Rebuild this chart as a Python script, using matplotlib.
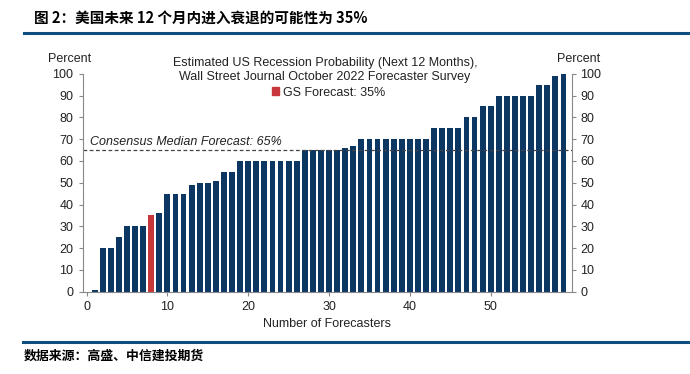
import numpy as np
import matplotlib.pyplot as plt
from matplotlib.patches import Patch

# 数据：每位预测者的衰退概率（已排序）
forecasters = list(range(1, 60))
probability = [1, 20, 20, 25, 30, 30, 30, 35, 36, 45,
               45, 45, 49, 50, 50, 51, 55, 55, 60, 60,
               60, 60, 60, 60, 60, 60, 65, 65, 65, 65,
               65, 66, 67, 70, 70, 70, 70, 70, 70, 70,
               70, 70, 75, 75, 75, 75, 80, 80, 85, 85,
               90, 90, 90, 90, 90, 95, 95, 99, 100]
gs_index = 8          # 高盛所在的预测者序号
median_value = 65
x_ticks = [0, 10, 20, 30, 40, 50]
y_ticks = [0, 10, 20, 30, 40, 50, 60, 70, 80, 90, 100]

navy = '#0c3763'
red = '#c8383a'
line_blue = '#0e4e7f'
fs = 9

plt.rcParams['font.family'] = ['Liberation Sans', 'DejaVu Sans']
cjk = ['Noto Sans CJK SC', 'DejaVu Sans']

fig = plt.figure(figsize=(6.9, 3.74), dpi=100)
ax = fig.add_axes([0.1196, 0.220, 0.7087, 0.5827])

colors = [red if f == gs_index else navy for f in forecasters]
ax.bar(forecasters, probability, width=0.72, color=colors)

ax.axhline(median_value, color='#444444', lw=0.9, ls=(0, (3, 2)))
ax.text(0.4, median_value + 1.0, 'Consensus Median Forecast: 65%',
        style='italic', fontsize=fs, color='#222222', va='bottom')

ax.set_xlim(-0.5, 60)
ax.set_ylim(0, 100)
ax.set_xticks(x_ticks)
ax.set_yticks(y_ticks)
ax.tick_params(labelsize=fs, length=3, color='#888888', labelcolor='#222222')
ax.tick_params(axis='y', left=True, right=True, labelleft=True, labelright=True)
ax.spines['top'].set_visible(False)
for s in ['left', 'right', 'bottom']:
    ax.spines[s].set_color('#888888')
    ax.spines[s].set_linewidth(0.8)
ax.set_xlabel('Number of Forecasters', fontsize=fs, color='#222222', labelpad=4)

fig.text(0.101, 0.843, 'Percent', fontsize=fs, ha='center', va='center', color='#222222')
fig.text(0.838, 0.843, 'Percent', fontsize=fs, ha='center', va='center', color='#222222')

fig.text(0.471, 0.812, 'Estimated US Recession Probability (Next 12 Months),\n'
         'Wall Street Journal October 2022 Forecaster Survey',
         fontsize=fs, ha='center', va='center', color='#222222', linespacing=1.2)
fig.legend(handles=[Patch(color=red, label='GS Forecast: 35%')],
           loc='center', bbox_to_anchor=(0.476, 0.752), frameon=False,
           fontsize=fs, handlelength=0.6, handleheight=0.6, handletextpad=0.3,
           labelcolor='#222222')

# 标题与来源
fig.text(0.05, 0.951, '图 2：美国未来 12 个月内进入衰退的可能性为 35%',
         family=cjk, fontsize=10.5, fontweight='bold', va='center')
fig.add_artist(plt.Line2D([0.035, 1.0], [0.913, 0.913], color=line_blue, lw=2.2))
fig.add_artist(plt.Line2D([0.034, 1.0], [0.085, 0.085], color=line_blue, lw=2.2))
fig.text(0.034, 0.048, '数据来源：高盛、中信建投期货',
         family=cjk, fontsize=9.3, fontweight='bold', va='center')

fig.savefig('out.png', dpi=100)
